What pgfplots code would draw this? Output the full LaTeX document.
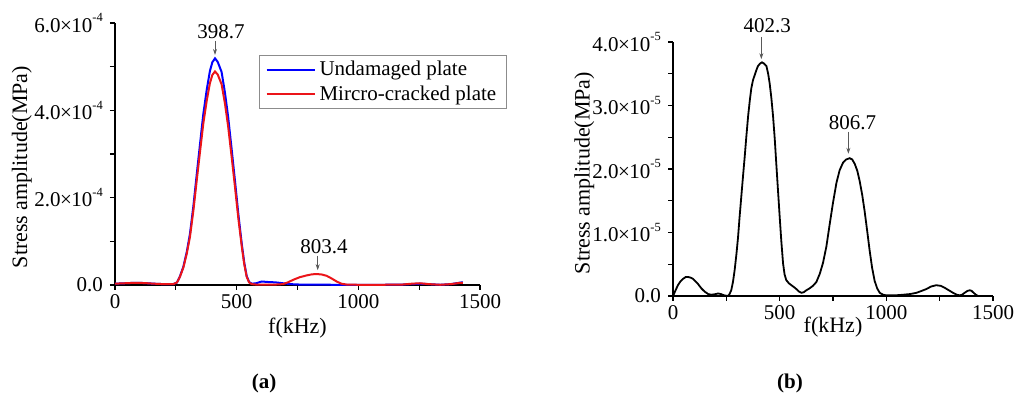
\documentclass[border=0pt]{standalone}
\usepackage{fontspec}
\setmainfont{Liberation Serif}
\usepackage{pgfplots}
\pgfplotsset{compat=1.18}
\usetikzlibrary{arrows.meta}

\newcommand\sci[2]{#1\kern-0.5pt×\kern-0.5pt10\raisebox{0.5em}{\fontsize{12.5}{12}\selectfont #2}}
\tikzset{ann/.style={draw=black!65, line width=0.7pt, -{Stealth[length=6pt,width=4pt]}}}
\pgfplotsset{
  myaxis/.style={
    scale only axis,
    axis x line=bottom, axis y line=left,
    axis line style={-, line width=1.3pt},
    tick align=outside,
    major tick length=5pt, minor tick length=5pt,
    every tick/.style={line width=1.1pt, black},
    xmin=0, xmax=1500,
    xtick={0,500,1000,1500}, xticklabels={0,500,1000,1500},
    minor xtick={250,750,1250},
    scaled y ticks=false,
    clip=false,
    xlabel={f(kHz)},
    ylabel={Stress amplitude(MPa)},
    label style={font=\fontsize{22}{25}\selectfont},
    xticklabel style={yshift=2.5pt},
    yticklabel style={xshift=0pt},
  },
}

\begin{document}
\fontsize{21}{25}\selectfont
\begin{tikzpicture}
% ---------------- panel (a) ----------------
\begin{axis}[myaxis,
  at={(115pt,119pt)}, anchor=south west,
  width=365pt, height=262pt,
  ymin=0, ymax=6e-4,
  ytick={0,2e-4,4e-4,6e-4},
  yticklabels={0.0, \sci{2.0}{-4}, \sci{4.0}{-4}, \sci{6.0}{-4}},
  minor ytick={1e-4,3e-4,5e-4},
  xlabel style={at={(axis description cs:0.5,-0.164)}, anchor=center},
  ylabel style={at={(axis description cs:-0.255,0.45)}, anchor=center},
  legend style={at={(axis description cs:0.395,0.878)}, anchor=north west,
    draw=black!45, line width=0.8pt, inner xsep=6pt, inner ysep=4.5pt,
    cells={anchor=west}, row sep=5pt,
    nodes={inner xsep=4pt, inner ysep=1pt}},
  legend image code/.code={\draw[#1] (0pt,0pt) -- (48pt,0pt);},
]
\addplot[color={rgb,255:red,0;green,0;blue,255}, line width=2pt] coordinates {
(0,0.000003) (40,0.000004) (80,0.000005) (120,0.0000045) (160,0.000003) (200,0.000002) (240,0.000002) (255,0.000006)
(267,0.000020) (281,0.000042) (295,0.000076) (308,0.000117) (322,0.000180) (336,0.000254) (350,0.000326)
(363,0.000392) (377,0.000447) (390,0.000490) (400,0.000510) (411,0.000519) (422,0.000511) (438,0.000488)
(452,0.000440) (465,0.000385) (479,0.000313) (493,0.000239) (507,0.000162) (521,0.000094) (531,0.000052)
(541,0.000021) (551,0.000007) (562,0.000003) (580,0.000004) (603,0.000008) (625,0.000007) (660,0.000006)
(690,0.000004) (720,0.000002) (760,0.000001) (800,0.000001) (900,0.0000005) (1000,0.0000005) (1100,0.0000005)
(1180,0.000001) (1220,0.000002) (1253,0.000003) (1290,0.000002) (1336,0.0000005) (1380,0.000002) (1425,0.000006) (1430,0.000006)
};
\addlegendentry{Undamaged plate}
\addplot[color={rgb,255:red,235;green,20;blue,25}, line width=2pt] coordinates {
(0,0.000003) (40,0.000004) (80,0.000005) (120,0.0000045) (160,0.000003) (200,0.000002) (240,0.000002) (255,0.000006)
(267,0.000019) (281,0.000040) (295,0.000072) (308,0.000110) (322,0.000170) (336,0.000240) (350,0.000308)
(363,0.000370) (377,0.000422) (390,0.000462) (400,0.000481) (411,0.000489) (422,0.000482) (438,0.000460)
(452,0.000415) (465,0.000363) (479,0.000295) (493,0.000225) (507,0.000152) (521,0.000088) (531,0.000048)
(541,0.000019) (551,0.000006) (562,0.000002) (580,0.000001) (620,0.000001) (660,0.000001) (690,0.000002)
(710,0.000006) (733,0.000012) (760,0.000018) (788,0.000022) (810,0.0000245) (831,0.000025) (850,0.000024)
(870,0.000021) (890,0.000015) (911,0.000008) (930,0.000003) (952,0.000001) (1000,0.0000005) (1100,0.0000005)
(1180,0.000001) (1220,0.000003) (1253,0.000004) (1290,0.000002) (1336,0.0000005) (1380,0.000002) (1418,0.000005) (1430,0.000005)
};
\addlegendentry{Mircro-cracked plate}
\node at (axis cs:436,5.80e-4) {398.7};
\draw[ann] (axis cs:411,5.59e-4) -- (axis cs:411,5.27e-4);
\node at (axis cs:859,0.88e-4) {803.4};
\draw[ann] (axis cs:833,0.67e-4) -- (axis cs:833,0.34e-4);
\end{axis}

% ---------------- panel (b) ----------------
\begin{axis}[myaxis,
  at={(673pt,108pt)}, anchor=south west,
  width=320pt, height=254pt,
  ymin=0, ymax=4e-5,
  ytick={0,1e-5,2e-5,3e-5,4e-5},
  yticklabels={0.0, \sci{1.0}{-5}, \sci{2.0}{-5}, \sci{3.0}{-5}, \sci{4.0}{-5}},
  minor ytick={0.5e-5,1.5e-5,2.5e-5,3.5e-5},
  xlabel style={at={(axis description cs:0.5,-0.122)}, anchor=center},
  ylabel style={at={(axis description cs:-0.277,0.484)}, anchor=center},
]
\addplot[black, line width=1.8pt] coordinates {
(0,0) (12,0.09e-5) (23,0.17e-5) (35,0.23e-5) (47,0.27e-5) (60,0.30e-5) (70,0.30e-5) (82,0.29e-5) (94,0.27e-5)
(117,0.19e-5) (133,0.12e-5) (148,0.07e-5) (165,0.03e-5) (180,0.02e-5) (200,0.03e-5) (211,0.04e-5) (225,0.03e-5)
(240,0.01e-5) (258,0) (265,0.03e-5) (273,0.09e-5) (281,0.22e-5) (289,0.41e-5) (297,0.65e-5) (305,0.93e-5)
(312,1.24e-5) (320,1.56e-5) (328,1.88e-5) (336,2.19e-5) (344,2.52e-5) (352,2.83e-5) (360,3.08e-5) (367,3.27e-5)
(375,3.40e-5) (383,3.48e-5) (390,3.55e-5) (398,3.62e-5) (408,3.66e-5) (417,3.68e-5) (427,3.66e-5) (438,3.62e-5)
(446,3.50e-5) (453,3.35e-5) (461,3.12e-5) (469,2.83e-5) (477,2.47e-5) (484,2.09e-5) (492,1.67e-5) (500,1.25e-5)
(508,0.85e-5) (516,0.51e-5) (523,0.34e-5) (531,0.25e-5) (543,0.20e-5) (555,0.17e-5) (567,0.14e-5) (578,0.11e-5)
(590,0.07e-5) (602,0.05e-5) (613,0.06e-5) (625,0.09e-5) (640,0.12e-5) (656,0.16e-5) (672,0.22e-5) (688,0.35e-5)
(703,0.52e-5) (719,0.78e-5) (734,1.12e-5) (750,1.47e-5) (766,1.78e-5) (781,1.98e-5) (797,2.10e-5) (812,2.15e-5)
(828,2.17e-5) (840,2.15e-5) (852,2.08e-5) (864,1.97e-5) (875,1.81e-5) (887,1.59e-5) (898,1.34e-5) (910,1.03e-5)
(922,0.71e-5) (933,0.45e-5) (945,0.24e-5) (957,0.12e-5) (969,0.05e-5) (985,0.02e-5) (1000,0.01e-5) (1040,0.01e-5)
(1078,0.02e-5) (1110,0.03e-5) (1141,0.05e-5) (1165,0.08e-5) (1188,0.11e-5) (1210,0.15e-5) (1234,0.17e-5)
(1255,0.16e-5) (1273,0.13e-5) (1293,0.09e-5) (1313,0.05e-5) (1330,0.02e-5) (1344,0.01e-5) (1355,0.02e-5)
(1367,0.05e-5) (1380,0.08e-5) (1391,0.09e-5) (1400,0.08e-5) (1409,0.05e-5) (1420,0.02e-5) (1430,0)
};
\node at (axis cs:441.6,4.26e-5) {402.3};
\draw[ann] (axis cs:414,4.08e-5) -- (axis cs:414,3.73e-5);
\node at (axis cs:841,2.73e-5) {806.7};
\draw[ann] (axis cs:822,2.59e-5) -- (axis cs:822,2.24e-5);
\end{axis}

\node[font=\bfseries] at (264pt,21pt) {(a)};
\node[font=\bfseries] at (790pt,21pt) {(b)};

\pgfresetboundingbox
\path[use as bounding box] (0,0) rectangle (1024pt,404pt);
\end{tikzpicture}
\end{document}
